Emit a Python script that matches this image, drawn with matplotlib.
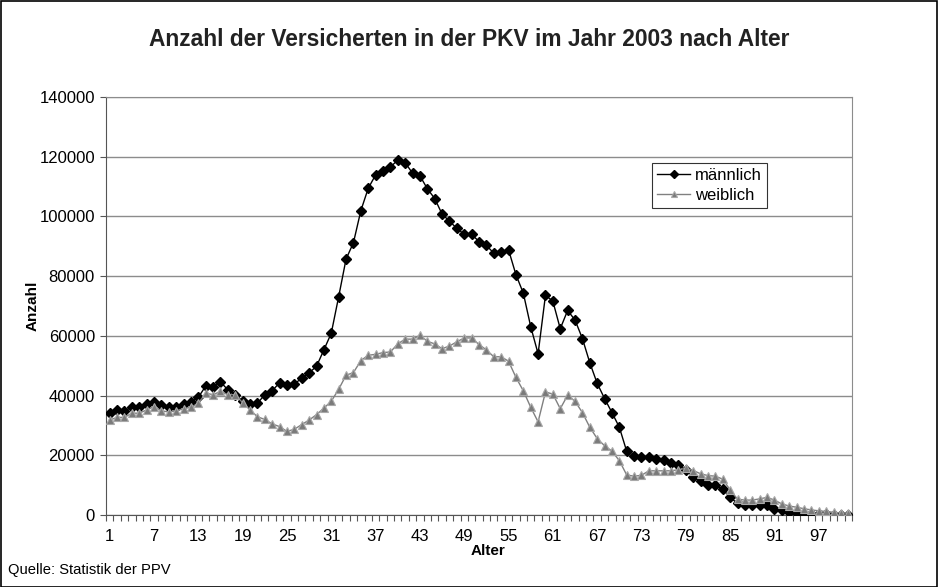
import numpy as np
import matplotlib
matplotlib.use('Agg')
import matplotlib.pyplot as plt
from matplotlib.patches import Rectangle

plt.rcParams.update({'font.family': ['Liberation Sans', 'DejaVu Sans']})

# Alter 1..101
ages = np.arange(1, 102)

# Versicherte in Tausend
maennlich = [34.1, 35.2, 34.9, 36.1, 36.3, 37.2, 37.9, 36.7, 36.3, 36.3,
             37.2, 37.9, 39.4, 43.2, 42.8, 44.6, 41.9, 40.3, 38.1, 37.2,
             37.4, 40.3, 41.6, 44.3, 43.4, 43.9, 45.8, 47.6, 49.8, 55.3,
             60.9, 73.1, 85.7, 91.2, 101.9, 109.4, 113.9, 115.3, 116.5, 118.9,
             118.0, 114.5, 113.6, 109.3, 106.0, 100.8, 98.4, 96.0, 94.0, 94.0,
             91.6, 90.3, 87.7, 88.1, 88.8, 80.5, 74.3, 63.1, 54.0, 73.6,
             71.6, 62.4, 68.5, 65.3, 59.1, 51.0, 44.1, 39.0, 34.3, 29.4,
             21.3, 19.8, 19.3, 19.3, 18.7, 18.4, 17.4, 16.6, 15.1, 12.8,
             11.3, 10.2, 9.9, 8.6, 5.9, 3.9, 3.3, 3.2, 3.4, 3.4,
             2.1, 1.6, 1.0, 0.6, 0.4, 0.3, 0.2, 0.2, 0.1, 0.1, 0.05]
weiblich = [31.8, 32.7, 32.7, 34.1, 34.1, 35.2, 36.3, 34.9, 34.5, 34.9,
            35.6, 36.1, 37.4, 40.8, 40.3, 41.4, 40.3, 40.3, 37.6, 35.2,
            32.9, 32.0, 30.5, 29.6, 28.0, 28.7, 30.3, 31.8, 33.6, 35.8,
            38.1, 42.1, 46.8, 47.7, 51.7, 53.5, 53.8, 54.4, 54.6, 57.3,
            58.9, 58.9, 60.2, 58.2, 57.3, 55.7, 56.6, 58.0, 59.3, 59.3,
            57.1, 55.3, 53.0, 53.0, 51.5, 46.1, 41.6, 36.1, 31.2, 41.2,
            40.5, 35.6, 40.1, 38.1, 34.3, 29.4, 25.6, 23.2, 21.4, 18.2,
            13.4, 13.0, 13.3, 14.8, 14.8, 14.8, 14.8, 15.2, 15.6, 14.9,
            13.8, 13.2, 13.0, 12.0, 8.4, 5.3, 5.0, 5.0, 5.4, 5.9,
            5.0, 3.7, 3.0, 2.6, 2.1, 1.7, 1.4, 1.2, 0.9, 0.7, 0.6]

W, H = 938, 587
fig = plt.figure(figsize=(W / 100, H / 100), dpi=100)
fig.subplots_adjust(left=106 / W, right=852 / W, bottom=1 - 515 / H, top=1 - 97 / H)
ax = fig.add_subplot()

ax.plot(ages, np.array(maennlich) * 1000, '-', color='black', lw=1.0,
        marker='D', markersize=4.8, markerfacecolor='black', markeredgecolor='black',
        label='männlich', zorder=3)
ax.plot(ages, np.array(weiblich) * 1000, '-', color='#808080', lw=1.0,
        marker='^', markersize=6, markerfacecolor='#7a7a7a', markeredgecolor='#a8a8a8',
        markeredgewidth=0.8, label='weiblich', zorder=4)

ax.set_xlim(0.5, 101.5)
ax.set_ylim(0, 140000)
ax.set_yticks(np.arange(0, 140001, 20000))
ax.set_yticklabels([str(v) for v in range(0, 140001, 20000)], fontsize=12)
ax.set_xticks(np.arange(1, 98, 6))
ax.set_xticklabels([str(v) for v in range(1, 98, 6)], fontsize=12)
ax.set_xticks(np.arange(0.5, 102, 1), minor=True)
ax.tick_params(axis='x', which='major', length=0, pad=10)
ax.tick_params(axis='x', which='minor', length=4, width=0.8, direction='out', color='#555555')
ax.tick_params(axis='y', length=4, width=0.8, direction='out', color='#555555', pad=4)

ax.grid(axis='y', color='#8c8c8c', lw=1.0)
ax.set_axisbelow(True)
for s in ['top', 'right']:
    ax.spines[s].set_color('#8c8c8c')
for s in ['left', 'bottom']:
    ax.spines[s].set_color('#555555')

ax.set_xlabel('Alter', fontsize=11, fontweight='bold')
ax.xaxis.set_label_coords((488 - 106) / 746, (515 - 551) / 418)
ax.xaxis.label.set_va('center')
ax.set_ylabel('Anzahl', fontsize=11, fontweight='bold', labelpad=0)

leg = ax.legend(loc='upper left', bbox_to_anchor=((652 - 106) / 746, 1 - (163 - 97) / 418),
                fontsize=12, frameon=True, fancybox=False, edgecolor='black',
                handlelength=2.0, borderpad=0.3, labelspacing=0.3, handletextpad=0.3,
                borderaxespad=0, markerscale=0.8)
leg.get_frame().set_linewidth(0.8)

fig.text(469 / W, 1 - 40 / H, 'Anzahl der Versicherten in der PKV im Jahr 2003 nach Alter',
         ha='center', va='center', fontsize=16.4, fontweight='bold', color='#222222')
fig.text(8 / W, 1 - 570 / H, 'Quelle: Statistik der PPV', ha='left', va='center', fontsize=10.6)

fig.patches.append(Rectangle((0.5 / W, 0.5 / H), 1 - 1.5 / W, 1 - 1.5 / H,
                             transform=fig.transFigure, fill=False,
                             edgecolor='black', lw=1.2))

fig.savefig('out.png', dpi=100)
